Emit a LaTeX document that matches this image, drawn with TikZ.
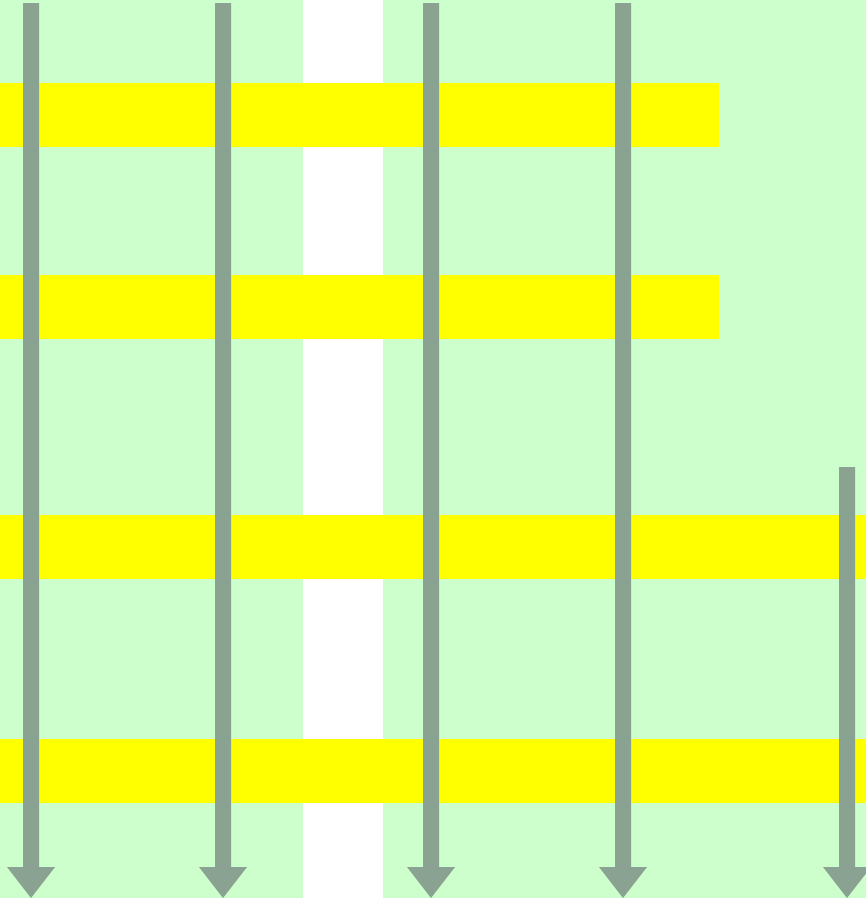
\documentclass[tikz,border=0pt]{standalone}
\definecolor{bggreen}{HTML}{CCFFCC}
\definecolor{band}{HTML}{FFFF00}
\definecolor{arrowgray}{HTML}{8AA291}
\tikzset{
  bandrect/.style={fill=band, draw=none},
  downarrow/.style={fill=arrowgray, draw=none}
}
\newcommand{\downarr}[2]{% x, top y
  \fill[downarrow] (#1-8,#2) -- (#1+8,#2) -- (#1+8,867) -- (#1+24,867) -- (#1,898) -- (#1-24,867) -- (#1-8,867) -- cycle;}
\begin{document}
\begin{tikzpicture}[x=1pt,y=-1pt]
\useasboundingbox (0,0) rectangle (866,898);
\fill[bggreen] (0,0) rectangle (866,898);
\fill[white] (303,0) rectangle (383,898);
\fill[bandrect] (0,83) rectangle (719,147);
\fill[bandrect] (0,275) rectangle (719,339);
\fill[bandrect] (0,515) rectangle (866,579);
\fill[bandrect] (0,739) rectangle (866,803);
\downarr{31}{3}
\downarr{223}{3}
\downarr{431}{3}
\downarr{623}{3}
\downarr{847}{467}
\end{tikzpicture}
\end{document}
